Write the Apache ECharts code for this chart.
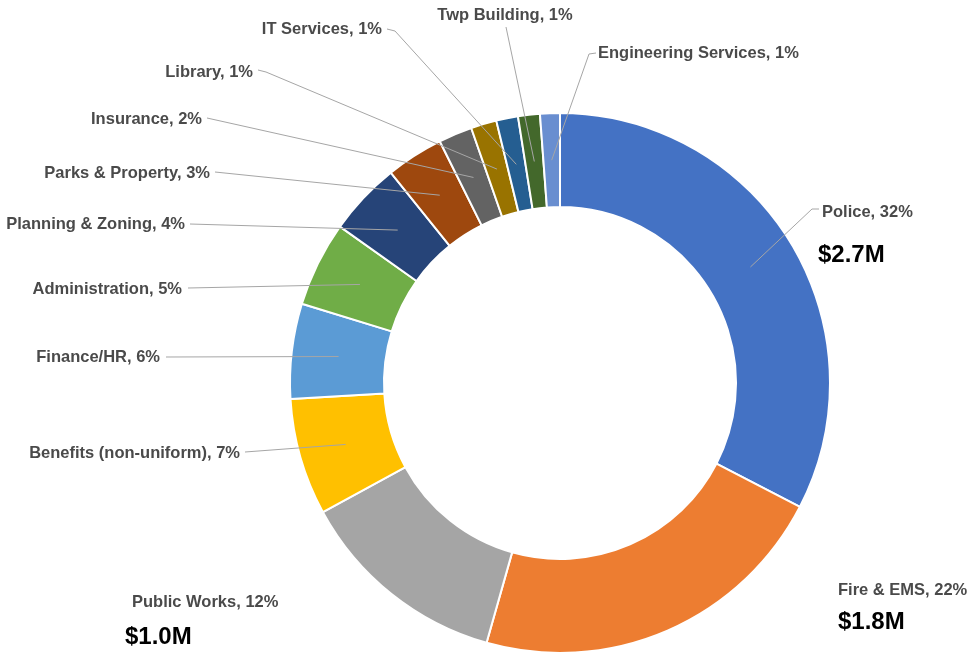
<!DOCTYPE html>
<html>
<head>
<meta charset="utf-8">
<script src="https://cdn.jsdelivr.net/npm/echarts@6/dist/echarts.min.js"></script>
<style>
html, body {margin:0; padding:0; background:#fff;}
#chart {width:974px; height:657px;}
</style>
</head>
<body>
<div id="chart"></div>
<script>
// budget by department, clockwise from 12 o'clock
const departments = ['Police', 'Fire & EMS', 'Public Works', 'Benefits (non-uniform)', 'Finance/HR',
    'Administration', 'Planning & Zoning', 'Parks & Property', 'Insurance', 'Library',
    'IT Services', 'Twp Building', 'Engineering Services'];
const budgetMillions = [2.75, 1.84, 1.07, 0.59, 0.48, 0.43, 0.37, 0.29, 0.17, 0.13, 0.11, 0.11, 0.10];
const percentLabels = ['32%', '22%', '12%', '7%', '6%', '5%', '4%', '3%', '2%', '1%', '1%', '1%', '1%'];
const amountLabels = ['$2.7M', '$1.8M', '$1.0M', '', '', '', '', '', '', '', '', '', ''];

const colors = ['#4472C4', '#ED7D31', '#A5A5A5', '#FFC000', '#5B9BD5', '#70AD47', '#264478',
    '#9E480E', '#636363', '#997300', '#255E91', '#43682B', '#698ED0'];

const cx = 560, cy = 383, r0 = 176, r1 = 270;
const lineR = (r0 + r1) / 2;

// where each label sits (x, y, alignment) and the tail of its leader line
const labelSpots = [
    {x:822, y:200, align:'left', va:'top', tail:[[812, 209], [819, 209]], valueLine:62, outdent:4},
    {x:838, y:578, align:'left', va:'top', tail:null, valueLine:40},
    {x:125, y:590, align:'left', va:'top', tail:null, valueLine:46, indent:7},
    {x:240, y:453, align:'right', va:'middle', tail:[[245, 452]]},
    {x:160, y:357, align:'right', va:'middle', tail:[[166, 357]]},
    {x:182, y:289, align:'right', va:'middle', tail:[[188, 288]]},
    {x:185, y:224, align:'right', va:'middle', tail:[[190, 224]]},
    {x:210, y:173, align:'right', va:'middle', tail:[[215, 172]]},
    {x:202, y:119, align:'right', va:'middle', tail:[[207, 118]]},
    {x:253, y:72, align:'right', va:'middle', tail:[[266, 72], [258, 70]]},
    {x:382, y:29, align:'right', va:'middle', tail:[[395, 31], [387, 29]]},
    {x:505, y:15, align:'center', va:'middle', tail:[[506, 27]]},
    {x:598, y:53, align:'left', va:'middle', tail:[[589, 54], [596, 53]]}
];

const fontFamily = '"Liberation Sans", Arial, sans-serif';

let chart = echarts.init(document.getElementById('chart'));
chart.setOption({
    backgroundColor: '#fff',
    animation: false,
    series: [{
        // the ring itself
        type: 'pie',
        z: 2,
        center: [cx, cy],
        radius: [r0, r1],
        startAngle: 90,
        clockwise: true,
        silent: true,
        label: {show: false},
        labelLine: {show: false},
        itemStyle: {borderColor: '#fff', borderWidth: 2},
        data: departments.map((name, i) => ({name: name, value: budgetMillions[i], itemStyle: {color: colors[i]}}))
    }, {
        // invisible inner ring that carries the labels so leader lines end mid-slice, on top
        type: 'pie',
        z: 4,
        center: [cx, cy],
        radius: [r0, lineR],
        startAngle: 90,
        clockwise: true,
        silent: true,
        avoidLabelOverlap: false,
        itemStyle: {color: 'rgba(0,0,0,0)', borderWidth: 0},
        label: {
            show: true,
            position: 'outside',
            formatter: p => {
                let s = '{n|' + p.name + ', ' + percentLabels[p.dataIndex] + '}';
                if (amountLabels[p.dataIndex]) s += '\n{v|' + amountLabels[p.dataIndex] + '}';
                return s;
            },
            rich: {
                n: {fontFamily: fontFamily, fontWeight: 'bold', fontSize: 16.5, color: '#4a4a4a', lineHeight: 24},
                v: {fontFamily: fontFamily, fontWeight: 'bold', fontSize: 24, color: '#000', lineHeight: 58}
            }
        },
        labelLine: {show: true, length: 10, length2: 8, lineStyle: {color: '#a6a6a6', width: 1}},
        emphasis: {disabled: true},
        labelLayout: params => {
            let spot = labelSpots[params.dataIndex];
            let out = {x: spot.x - (spot.outdent || 0), y: spot.y, align: spot.align, verticalAlign: spot.va};
            if (spot.tail && params.labelLinePoints) {
                out.labelLinePoints = [params.labelLinePoints[0]].concat(spot.tail);
            }
            return out;
        },
        data: departments.map((name, i) => {
            let spot = labelSpots[i];
            let rich = {};
            if (spot.indent) rich.n = {padding: [0, 0, 0, spot.indent]};
            if (spot.outdent) rich.n = {padding: [0, 0, 0, spot.outdent]};
            if (spot.valueLine) rich.v = {lineHeight: spot.valueLine};
            return {
                name: name,
                value: budgetMillions[i],
                labelLine: {show: !!spot.tail},
                label: {rich: rich}
            };
        })
    }]
});
</script>
</body>
</html>
